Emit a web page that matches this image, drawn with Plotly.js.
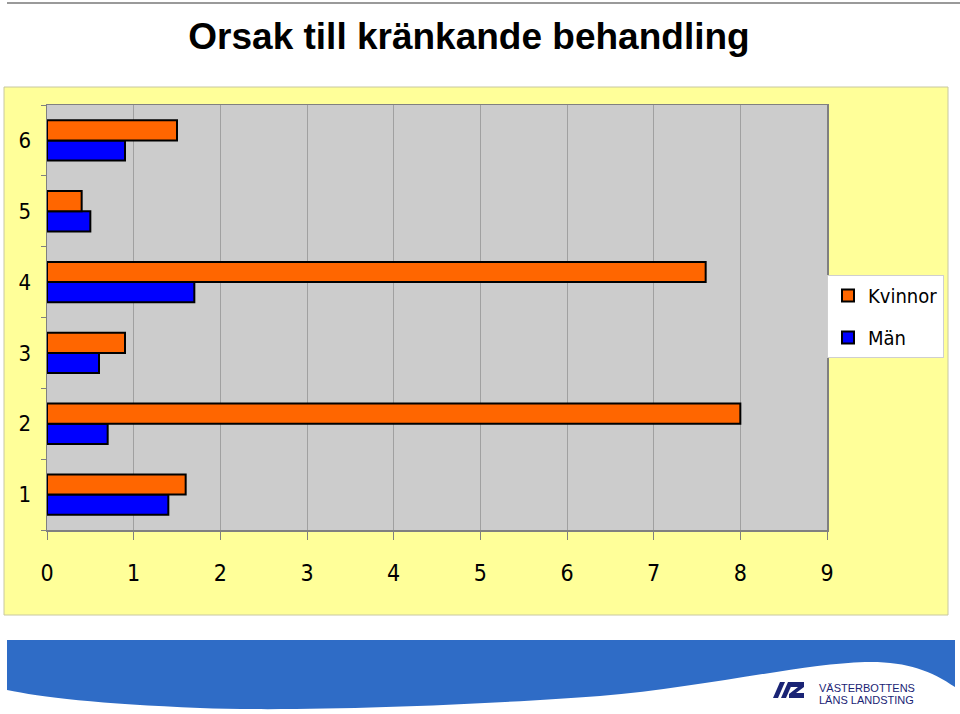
<!DOCTYPE html>
<html>
<head>
<meta charset="utf-8">
<script src="https://cdn.plot.ly/plotly-3.0.1.min.js"></script>
<style>
  html, body { margin: 0; padding: 0; background: #fff; }
  #chart { width: 960px; height: 714px; }
</style>
</head>
<body>
<div id="chart"></div>
<script>
  // Orsak till kränkande behandling — Kvinnor / Män
  const categories = ['1', '2', '3', '4', '5', '6'];
  const kvinnor = [1.6, 8.0, 0.9, 7.6, 0.4, 1.5];
  const man = [1.4, 0.7, 0.6, 1.7, 0.5, 0.9];
  const xTicks = [0, 1, 2, 3, 4, 5, 6, 7, 8, 9];

  const NARROW = 'Liberation Sans Narrow, DejaVu Sans Condensed, Arial Narrow, sans-serif';

  // plot area in pixels (for the decoration shapes)
  const PL = 47, PR = 827, PT = 105, PB = 530;
  const fx = x => (x - PL) / (PR - PL);
  const fy = y => (PB - y) / (PB - PT);
  function path(pts) {
    return pts.map((p, i) => {
      if (p[0] === 'C') return 'C' + [p[1], p[2], p[3]].map(q => fx(q[0]) + ',' + fy(q[1])).join(' ');
      return (i ? 'L' : 'M') + fx(p[0]) + ',' + fy(p[1]);
    }).join(' ') + ' Z';
  }

  const shapes = [
    // top rule
    { type: 'line', xref: 'paper', yref: 'paper', x0: fx(7), x1: fx(960), y0: fy(3), y1: fy(3),
      line: { color: '#9a9a9a', width: 2 }, layer: 'below' },
    // yellow chart panel
    { type: 'rect', xref: 'paper', yref: 'paper', x0: fx(4), x1: fx(948), y0: fy(615), y1: fy(87),
      fillcolor: '#FFFF99', line: { color: '#c8c8a0', width: 1 }, layer: 'below' },
    // grey plot area (the panel would hide plot_bgcolor)
    { type: 'rect', xref: 'paper', yref: 'paper', x0: 0, x1: 1, y0: 0, y1: 1,
      fillcolor: '#CCCCCC', line: { width: 0 }, layer: 'below' },
    // blue banner
    { type: 'path', xref: 'paper', yref: 'paper', layer: 'below',
      fillcolor: '#2f6cc6', line: { width: 0 },
      path: path([[7, 640], [955, 640], [955, 687],
        ['C', [930, 670], [905, 661], [865, 662]],
        ['C', [800, 664], [700, 688], [600, 696]],
        ['C', [480, 705], [300, 712], [200, 708]],
        ['C', [100, 704], [40, 697], [7, 690]]]) },
    // logo mark
    { type: 'path', xref: 'paper', yref: 'paper', fillcolor: '#1a2475', line: { width: 0 },
      path: path([[773, 698], [780, 682], [785, 682], [778, 698]]) },
    { type: 'path', xref: 'paper', yref: 'paper', fillcolor: '#1a2475', line: { width: 0 },
      path: path([[781, 698], [788, 682], [793, 682], [786, 698]]) },
    { type: 'path', xref: 'paper', yref: 'paper', fillcolor: '#1a2475', line: { width: 0 },
      path: path([[791, 682], [804, 682], [804, 687], [796, 693], [804, 693], [804, 698], [789, 698], [789, 694], [798, 687], [791, 687]]) }
  ];

  const annotations = [
    { xref: 'paper', yref: 'paper', x: fx(817), y: fy(688), xanchor: 'left', yanchor: 'middle',
      showarrow: false, text: 'VÄSTERBOTTENS',
      font: { family: 'Liberation Sans, Arial, sans-serif', size: 11, color: '#1a2475' } },
    { xref: 'paper', yref: 'paper', x: fx(817), y: fy(700), xanchor: 'left', yanchor: 'middle',
      showarrow: false, text: 'LÄNS LANDSTING',
      font: { family: 'Liberation Sans, Arial, sans-serif', size: 11, color: '#1a2475' } }
  ];

  // Män first so that Kvinnor sits above it inside each group
  const traces = [
    {
      type: 'bar', orientation: 'h', name: 'Män', legendgroup: 'm', legendrank: 2,
      y: categories, x: man,
      marker: { color: '#0000FF', line: { color: '#000000', width: 2 } },
      hoverinfo: 'x+name'
    },
    {
      type: 'bar', orientation: 'h', name: 'Kvinnor', legendgroup: 'k', legendrank: 1,
      y: categories, x: kvinnor,
      marker: { color: '#FF6600', line: { color: '#000000', width: 2 } },
      hoverinfo: 'x+name'
    }
  ];

  const layout = {
    width: 960, height: 714,
    margin: { l: PL, r: 960 - PR, t: PT, b: 714 - PB },
    paper_bgcolor: '#ffffff',
    plot_bgcolor: '#CCCCCC',
    title: {
      text: '<b>Orsak till kränkande behandling</b>',
      x: fx(469), xanchor: 'center', xref: 'paper',
      y: 1 - 36 / 714, yanchor: 'middle', yref: 'container',
      font: { family: 'Liberation Sans, Arial, sans-serif', size: 37, color: '#000' }
    },
    barmode: 'group',
    bargap: 0.43,
    bargroupgap: 0,
    xaxis: {
      range: [0, 9], tickmode: 'array', tickvals: xTicks, ticktext: xTicks.map(String),
      showgrid: true, gridcolor: '#a0a0a0', gridwidth: 1,
      zeroline: false,
      showline: true, linecolor: '#808080', linewidth: 1.5, mirror: true,
      ticks: 'outside', ticklen: 8, tickcolor: '#808080',
      ticklabelstandoff: 14,
      tickfont: { family: NARROW, size: 23, color: '#000' },
      fixedrange: true
    },
    yaxis: {
      type: 'category', categoryorder: 'array', categoryarray: categories,
      showgrid: false, zeroline: false,
      showline: true, linecolor: '#808080', linewidth: 1.5, mirror: true,
      ticks: 'outside', ticklen: 5, tickcolor: '#808080', tickson: 'boundaries',
      ticklabelstandoff: 10,
      tickfont: { family: NARROW, size: 22, color: '#000' },
      fixedrange: true
    },
    showlegend: true,
    legend: {
      x: fx(944), y: fy(275), xanchor: 'right', yanchor: 'top',
      xref: 'paper', yref: 'paper',
      bgcolor: '#ffffff', bordercolor: '#cfcfcf', borderwidth: 1,
      traceorder: 'grouped', tracegroupgap: 13,
      itemwidth: 30,
      font: { family: NARROW, size: 20, color: '#000' }
    },
    shapes: shapes,
    annotations: annotations
  };

  Plotly.newPlot('chart', traces, layout, { displayModeBar: false, staticPlot: true });
</script>
</body>
</html>
